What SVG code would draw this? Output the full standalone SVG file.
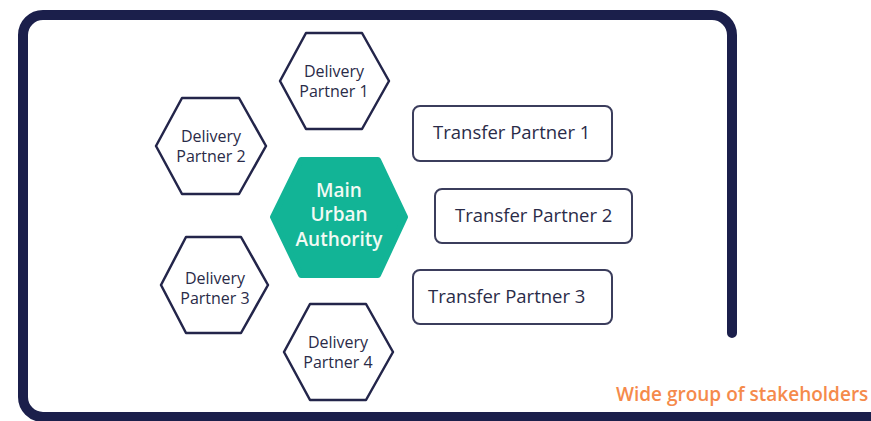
<svg xmlns="http://www.w3.org/2000/svg" width="871" height="421" viewBox="0 0 871 421">
<style>
.hex{fill:#fff;stroke:#23254a;stroke-width:2.5;stroke-linejoin:round}
.main{fill:#12b496;stroke:#12b496;stroke-width:6;stroke-linejoin:round}
.box{fill:#fff;stroke:#3b3d5c;stroke-width:2}
.dl{font-family:"Open Sans","Liberation Sans",sans-serif;font-size:16px;fill:#2a2b48;text-anchor:middle}
.ml{font-family:"Open Sans","Liberation Sans",sans-serif;font-size:19px;font-weight:600;fill:#f2faf4;text-anchor:middle}
.tl{font-family:"Open Sans","Liberation Sans",sans-serif;font-size:18.5px;fill:#2a2b48}
.wl{font-family:"Open Sans","Liberation Sans",sans-serif;font-size:19px;font-weight:600;fill:#f58a4b}
</style>
<g id="frame">
<path d="M732,333 V35 A20,20 0 0 0 712,15 H43 A20,20 0 0 0 23,35 V397 A20,20 0 0 0 43,417 H880" fill="none" stroke="#1b1f4b" stroke-width="10" stroke-linecap="round"/>
</g>
<g id="connectors"></g>
<g id="main-urban-authority">
<polygon class="main" points="301,160 378,160 405,217 378,275 301,275 273,217"/>
<text class="ml" x="339" y="197">Main</text>
<text class="ml" x="339" y="221">Urban</text>
<text class="ml" x="339" y="246">Authority</text>
</g>
<g id="delivery-partner-1">
<polygon class="hex" points="306,33 362,33 389,81 362,129 306,129 280,81"/>
<text class="dl" x="334" y="77">Delivery</text>
<text class="dl" x="334" y="97">Partner 1</text>
</g>
<g id="delivery-partner-2">
<polygon class="hex" points="182,98 239,98 266,146 239,194 182,194 156,146"/>
<text class="dl" x="211" y="142">Delivery</text>
<text class="dl" x="211" y="162">Partner 2</text>
</g>
<g id="delivery-partner-3">
<polygon class="hex" points="186,237 241,237 268,285 241,333 186,333 161,285"/>
<text class="dl" x="215" y="284">Delivery</text>
<text class="dl" x="215" y="304">Partner 3</text>
</g>
<g id="delivery-partner-4">
<polygon class="hex" points="310,304 366,304 393,352 366,400 310,400 284,352"/>
<text class="dl" x="338" y="348">Delivery</text>
<text class="dl" x="338" y="368">Partner 4</text>
</g>
<g id="transfer-partner-1">
<rect class="box" x="413" y="106" width="199" height="55" rx="7"/>
<text class="tl" x="433" y="139">Transfer Partner 1</text>
</g>
<g id="transfer-partner-2">
<rect class="box" x="435" y="189" width="197" height="54" rx="7"/>
<text class="tl" x="455" y="222">Transfer Partner 2</text>
</g>
<g id="transfer-partner-3">
<rect class="box" x="413" y="270" width="199" height="54" rx="7"/>
<text class="tl" x="428" y="303">Transfer Partner 3</text>
</g>
<g id="caption">
<text class="wl" x="616" y="401">Wide group of stakeholders</text>
</g>
</svg>
